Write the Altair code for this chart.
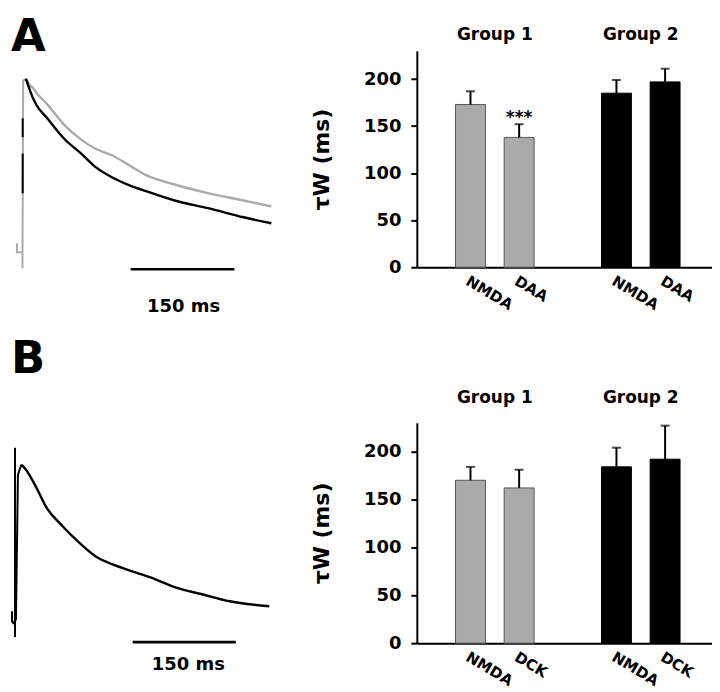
import altair as alt
import pandas as pd

FONT = "DejaVu Sans"
GRAY = "#b8b8b8"
TRACE_GRAY = "#aaaaaa"

# ---------------- Panel A : traces (time in ms, amplitude normalised to peak)
a_t = [5, 10, 15, 20, 35, 60, 85, 105, 130, 155, 180, 220, 270, 320, 360]
a_gray = [1.0, 0.968, 0.952, 0.926, 0.868, 0.757, 0.677, 0.630, 0.593, 0.540,
          0.487, 0.439, 0.392, 0.354, 0.323]
a_black = [1.0, 0.947, 0.899, 0.862, 0.794, 0.683, 0.603, 0.534, 0.476, 0.434,
           0.402, 0.354, 0.312, 0.265, 0.233]
# stimulus artifact of panel A
a_art_t = [-8, -8, 0, 0, 1, 5]
a_art_amp = [0.127, 0.079, 0.079, -0.005, 0.99, 1.0]
a_art_black_t = [0.3, 0.3, 0.3, 0.3]
a_art_black_amp = [0.392, 0.603, 0.69, 0.79]
a_xdom = [-16.6, 387.3]
a_ydom = [0.0, 1.148]

# ---------------- Panel B : trace
b_t = [-4.3, -4.3, -2.5, 0, 1.4, 4.3, 9.2, 16, 30.4, 45, 69.6, 88.4, 117.4, 142,
       175, 204, 233, 272, 312, 340.6, 369.6]
b_amp = [0.179, 0.123, 0.112, 0.123, 0.134, 0.944, 1.0, 0.972, 0.877, 0.765,
         0.654, 0.581, 0.486, 0.441, 0.397, 0.358, 0.313, 0.274, 0.235, 0.218,
         0.207]
b_art_t = [0, 0]
b_art_amp = [1.095, 0.034]
b_xdom = [-5.8, 400.0]
b_ydom = [0.0, 1.235]

# scale bars (150 ms)
scale_ms = 150
a_bar_start, a_bar_y, a_lab_t, a_lab_y = 156.5, -0.011, 233, -0.212
b_bar_start, b_bar_y, b_lab_t, b_lab_y = 171, 0.0056, 252, -0.123
a_letter_y = 1.338
b_letter_y = 1.715

# ---------------- bar data
groups = ["Group 1", "Group 1", "Group 2", "Group 2"]
positions = [1, 2, 4, 5]
a_drugs = ["NMDA", "DAA", "NMDA", "DAA"]
a_mean = [173, 138, 185, 197]
a_sem = [14, 14, 14, 14]
a_sig = ["", "***", "", ""]
b_drugs = ["NMDA", "DCK", "NMDA", "DCK"]
b_mean = [170, 162, 184, 192]
b_sem = [14, 19, 20, 35]
b_sig = ["", "", "", ""]
group_names = ["Group 1", "Group 2"]
group_centers = [1.5, 4.5]
a_group_y = 241
b_group_y = 251

XMAX = 296 / 50.5
YDOM = [0, 230]


def trace_panel(decay, art, xdom, ydom, bar_start, bar_y, lab_t, lab_y,
                letter, letter_y, height):
    xs = alt.Scale(domain=xdom, nice=False, zero=False)
    ys = alt.Scale(domain=ydom, nice=False, zero=False)
    color = alt.Color("series:N", legend=None,
                      scale=alt.Scale(domain=["gray", "black"],
                                      range=[TRACE_GRAY, "#000000"]))
    art_layer = alt.Chart(art).mark_line(strokeWidth=2, interpolate="linear").encode(
        x=alt.X("t:Q", scale=xs, axis=None),
        y=alt.Y("amp:Q", scale=ys, axis=None),
        color=color, detail="seg:N", order="idx:Q")
    decay_layer = alt.Chart(decay).mark_line(strokeWidth=2.4, interpolate="monotone").encode(
        x=alt.X("t:Q", scale=xs, axis=None),
        y=alt.Y("amp:Q", scale=ys, axis=None),
        color=color, detail="series:N", order="t:Q")
    sb = pd.DataFrame({"t1": [bar_start], "t2": [bar_start + scale_ms], "y": [bar_y]})
    bar_layer = alt.Chart(sb).mark_rule(strokeWidth=2.6, color="black").encode(
        x=alt.X("t1:Q", scale=xs, axis=None), x2="t2:Q",
        y=alt.Y("y:Q", scale=ys, axis=None))
    lab = pd.DataFrame({"t": [lab_t], "y": [lab_y], "txt": [f"{scale_ms} ms"]})
    lab_layer = alt.Chart(lab).mark_text(font=FONT, fontSize=18, fontWeight="bold",
                                         baseline="middle", align="center",
                                         color="black").encode(
        x=alt.X("t:Q", scale=xs, axis=None),
        y=alt.Y("y:Q", scale=ys, axis=None), text="txt:N")
    let = pd.DataFrame({"t": [xdom[0]], "y": [letter_y], "txt": [letter]})
    let_layer = alt.Chart(let).mark_text(font=FONT, fontSize=45, fontWeight="bold",
                                         baseline="top", align="left",
                                         color="black").encode(
        x=alt.X("t:Q", scale=xs, axis=None),
        y=alt.Y("y:Q", scale=ys, axis=None), text="txt:N")
    return alt.layer(art_layer, decay_layer, bar_layer, lab_layer, let_layer).properties(
        width=280, height=height)


def bar_panel(drugs, mean, sem, sig, group_y, height):
    df = pd.DataFrame({"group": groups, "pos": positions, "drug": drugs,
                       "mean": mean, "sem": sem, "sig": sig})
    df["top"] = df["mean"] + df["sem"]
    labels = [""] * 6
    for p, d in zip(positions, drugs):
        labels[p] = d
    expr = "[" + ",".join(f"'{s}'" for s in labels) + "][datum.value]"
    xaxis = alt.Axis(values=positions, labelExpr=expr, grid=False, ticks=False,
                     domainColor="black", domainWidth=2, labelAngle=31,
                     labelAlign="left", labelBaseline="top", labelFont=FONT,
                     labelFontSize=15, labelFontWeight="bold", labelColor="black",
                     labelPadding=6, labelFlush=False, labelOverlap=False, title="")
    yaxis = alt.Axis(values=[0, 50, 100, 150, 200], grid=False, domainColor="black",
                     domainWidth=2, tickColor="black", tickWidth=2, tickSize=6,
                     labelFont=FONT, labelFontSize=18, labelFontWeight="bold",
                     labelColor="black", labelPadding=10, labelFlush=False,
                     title="τW (ms)", titleFont=FONT, titleFontSize=22,
                     titleFontWeight="bold", titleColor="black", titlePadding=30)
    xs = alt.Scale(domain=[0, XMAX], nice=False, zero=False)
    ys = alt.Scale(domain=YDOM, nice=False)
    x = alt.X("pos:Q", scale=xs, axis=xaxis, title="")
    bars = alt.Chart(df).mark_bar(size=30, orient="vertical", strokeWidth=1).encode(
        x=x,
        y=alt.Y("mean:Q", scale=ys, axis=yaxis, title="τW (ms)"),
        color=alt.Color("group:N", legend=None,
                        scale=alt.Scale(domain=group_names, range=[GRAY, "#000000"])),
        stroke=alt.Stroke("group:N", legend=None,
                          scale=alt.Scale(domain=group_names, range=["#555555", "#000000"])))
    err = alt.Chart(df).mark_rule(strokeWidth=2, color="black").encode(
        x=x, y=alt.Y("mean:Q", scale=ys, axis=yaxis, title="τW (ms)"), y2="top:Q")
    caps = alt.Chart(df).mark_tick(orient="horizontal", size=9, thickness=2,
                                   color="black").encode(
        x=x, y=alt.Y("top:Q", scale=ys, axis=yaxis, title="τW (ms)"))
    stars = alt.Chart(df).mark_text(font=FONT, fontSize=17, fontWeight="bold",
                                    baseline="alphabetic", align="center", dy=-1,
                                    color="black").encode(
        x=x, y=alt.Y("top:Q", scale=ys, axis=yaxis, title="τW (ms)"), text="sig:N")
    gdf = pd.DataFrame({"pos": group_centers, "name": group_names,
                        "gy": [group_y] * len(group_names)})
    gtitles = alt.Chart(gdf).mark_text(font=FONT, fontSize=17, fontWeight="bold",
                                       baseline="alphabetic", align="center",
                                       color="black").encode(
        x=x, y=alt.Y("gy:Q", scale=ys, axis=yaxis, title="τW (ms)"), text="name:N")
    return alt.layer(bars, err, caps, stars, gtitles).properties(width=296, height=height)


def decay_df(t, series_vals):
    rows = []
    for name, vals in series_vals:
        for tt, v in zip(t, vals):
            rows.append({"t": tt, "amp": v, "series": name})
    return pd.DataFrame(rows)


a_decay = decay_df(a_t, [("gray", a_gray), ("black", a_black)])
a_art_rows = []
for i, (tt, v) in enumerate(zip(a_art_t, a_art_amp)):
    a_art_rows.append({"t": tt, "amp": v, "series": "gray", "seg": "g", "idx": i})
for i, (tt, v) in enumerate(zip(a_art_black_t, a_art_black_amp)):
    a_art_rows.append({"t": tt, "amp": v, "series": "black", "seg": f"b{i // 2}", "idx": i})
a_art = pd.DataFrame(a_art_rows)

b_decay = decay_df(b_t[6:], [("black", b_amp[6:])])
b_art_rows = []
for i, (tt, v) in enumerate(zip(b_t[:7], b_amp[:7])):
    b_art_rows.append({"t": tt, "amp": v, "series": "black", "seg": "hook", "idx": i})
for i, (tt, v) in enumerate(zip(b_art_t, b_art_amp)):
    b_art_rows.append({"t": tt, "amp": v, "series": "black", "seg": "art", "idx": i})
b_art = pd.DataFrame(b_art_rows)

trA = trace_panel(a_decay, a_art, a_xdom, a_ydom, a_bar_start, a_bar_y, a_lab_t,
                  a_lab_y, "A", a_letter_y, 217)
trB = trace_panel(b_decay, b_art, b_xdom, b_ydom, b_bar_start, b_bar_y, b_lab_t,
                  b_lab_y, "B", b_letter_y, 221)
barA = bar_panel(a_drugs, a_mean, a_sem, a_sig, a_group_y, 217)
barB = bar_panel(b_drugs, b_mean, b_sem, b_sig, b_group_y, 221)

chart = alt.concat(trA, barA, trB, barB, columns=2,
                   spacing={"row": 156, "column": 127}, bounds="flush").properties(
    padding={"top": 6, "left": 0, "right": 0, "bottom": 0}).configure_view(strokeWidth=0)

chart.save("out.html", embed_options={"renderer": "svg", "actions": False})
